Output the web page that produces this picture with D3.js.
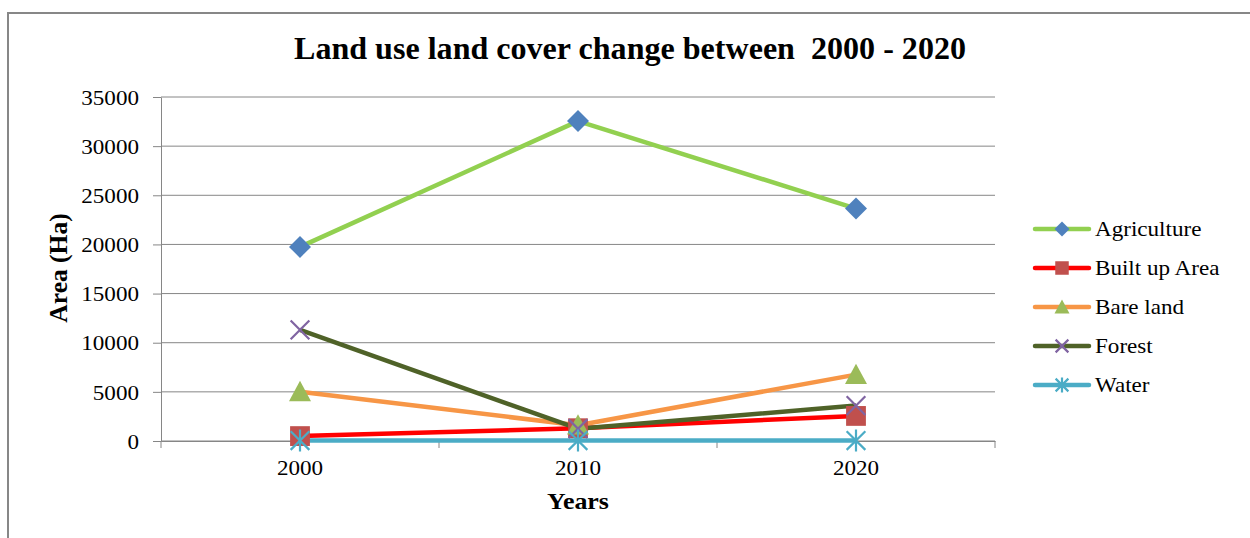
<!DOCTYPE html>
<html>
<head>
<meta charset="utf-8">
<script src="https://cdn.jsdelivr.net/npm/d3@7"></script>
<style>
  body { margin: 0; background: #fff; }
  text { font-family: "Liberation Serif", "Times New Roman", serif; fill: #000; }
</style>
</head>
<body>
<svg id="chart" width="1250" height="538"></svg>
<script>
// Chart data
const years = ['2000', '2010', '2020'];
const seriesNames = ['Agriculture', 'Built up Area', 'Bare land', 'Forest', 'Water'];
const agriculture = [19750, 32550, 23650];
const builtUp = [500, 1300, 2550];
const bareLand = [5000, 1600, 6750];
const forest = [11300, 1250, 3600];
const water = [50, 50, 50];
const yTicks = [0, 5000, 10000, 15000, 20000, 25000, 30000, 35000];

const lineColors = ['#92D050', '#FF0000', '#F79646', '#4F6228', '#4BACC6'];
const markerColors = ['#4F81BD', '#C0504D', '#9BBB59', '#8064A2', '#4BACC6'];
const markerTypes = ['diamond', 'square', 'triangle', 'x', 'star'];

const series = [agriculture, builtUp, bareLand, forest, water].map((vals, i) => ({
  name: seriesNames[i],
  line: lineColors[i],
  marker: markerColors[i],
  type: markerTypes[i],
  values: vals.map((v, j) => ({ year: years[j], value: v }))
}));

const svg = d3.select('#chart');
const gridColor = '#868686';

// outer frame
svg.append('rect')
  .attr('x', 8).attr('y', 13)
  .attr('width', 1400).attr('height', 700)
  .attr('fill', 'none')
  .attr('stroke', '#878787')
  .attr('stroke-width', 2);

const plotLeft = 161, plotRight = 995, plotTop = 97, plotBottom = 441;

const x = d3.scaleBand().domain(years).range([plotLeft, plotRight]).padding(0);
const y = d3.scaleLinear().domain([0, 35000]).range([plotBottom, plotTop]);

// gridlines
svg.append('g')
  .selectAll('line')
  .data(yTicks)
  .enter().append('line')
  .attr('x1', plotLeft).attr('x2', plotRight)
  .attr('y1', d => y(d)).attr('y2', d => y(d))
  .attr('stroke', gridColor)
  .attr('stroke-width', 1);

// y axis
const yAxis = svg.append('g')
  .attr('transform', `translate(${plotLeft},0)`)
  .call(d3.axisLeft(y).tickValues(yTicks).tickSize(8).tickSizeOuter(0).tickFormat(d3.format('d')));
yAxis.select('.domain').attr('stroke', gridColor);
yAxis.selectAll('.tick line').attr('stroke', gridColor);
yAxis.selectAll('.tick text')
  .attr('x', 0)
  .attr('dy', '0.34em')
  .attr('transform', 'translate(-22,0) scale(1.1,1)')
  .style('font-size', '21px')
  .style('font-family', '"Liberation Serif", serif')
  .attr('fill', '#000');

// x axis
const xAxis = svg.append('g')
  .attr('transform', `translate(0,${plotBottom})`)
  .call(d3.axisBottom(x).tickSize(0).tickSizeOuter(0));
xAxis.select('.domain').attr('stroke', gridColor);
xAxis.selectAll('.tick text')
  .attr('y', 0)
  .attr('dy', 0)
  .attr('transform', 'translate(0,34) scale(1.1,1)')
  .style('font-size', '21px')
  .style('font-family', '"Liberation Serif", serif')
  .attr('fill', '#000');
// category boundary ticks
const bounds = years.map(d => x(d)).concat([x.range()[1]]);
xAxis.selectAll('.bound')
  .data(bounds)
  .enter().append('line')
  .attr('class', 'bound')
  .attr('x1', d => d).attr('x2', d => d)
  .attr('y1', 0).attr('y2', 7)
  .attr('stroke', gridColor);

const cx = d => x(d.year) + x.bandwidth() / 2;

// lines
const line = d3.line().x(cx).y(d => y(d.value));
svg.append('g')
  .selectAll('path')
  .data(series)
  .enter().append('path')
  .attr('d', s => line(s.values))
  .attr('fill', 'none')
  .attr('stroke', s => s.line)
  .attr('stroke-width', 4.5)
  .attr('stroke-linejoin', 'round');

// marker drawing
function drawMarker(g, type, color, size) {
  const h = size / 2;
  if (type === 'diamond') {
    g.append('path').attr('d', `M0,${-h}L${h},0L0,${h}L${-h},0Z`).attr('fill', color);
  } else if (type === 'square') {
    g.append('rect').attr('x', -h * 0.9).attr('y', -h * 0.9)
      .attr('width', h * 1.8).attr('height', h * 1.8).attr('fill', color);
  } else if (type === 'triangle') {
    g.append('path').attr('d', `M0,${-h}L${h},${h * 0.85}L${-h},${h * 0.85}Z`).attr('fill', color);
  } else if (type === 'x') {
    const a = h * 0.85;
    g.append('path').attr('d', `M${-a},${-a}L${a},${a}M${-a},${a}L${a},${-a}`)
      .attr('stroke', color).attr('stroke-width', 2.2).attr('fill', 'none');
  } else if (type === 'star') {
    const a = h * 0.85;
    g.append('path').attr('d', `M${-a},${-a}L${a},${a}M${-a},${a}L${a},${-a}M0,${-h}L0,${h}`)
      .attr('stroke', color).attr('stroke-width', 2.2).attr('fill', 'none');
  }
}

// markers
series.forEach(s => {
  svg.append('g')
    .selectAll('g')
    .data(s.values)
    .enter().append('g')
    .attr('transform', d => `translate(${cx(d)},${y(d.value)})`)
    .each(function() { drawMarker(d3.select(this), s.type, s.marker, 22); });
});

// title
svg.append('text')
  .attr('transform', 'translate(630,59) scale(1.035,1)')
  .attr('text-anchor', 'middle')
  .style('font-size', '31px')
  .style('font-weight', 'bold')
  .style('white-space', 'pre')
  .text('Land use land cover change between  2000 - 2020');

// axis titles
svg.append('text')
  .attr('transform', 'translate(67,268) rotate(-90)')
  .attr('text-anchor', 'middle')
  .style('font-size', '25.5px')
  .style('font-weight', 'bold')
  .text('Area (Ha)');

svg.append('text')
  .attr('transform', 'translate(578,509) scale(1.08,1)')
  .attr('text-anchor', 'middle')
  .style('font-size', '24px')
  .style('font-weight', 'bold')
  .text('Years');

// legend
const legend = svg.append('g')
  .selectAll('g')
  .data(series)
  .enter().append('g')
  .attr('transform', (s, i) => `translate(1035,${229 + i * 39})`);

legend.append('line')
  .attr('x1', 0).attr('x2', 54)
  .attr('y1', 0).attr('y2', 0)
  .attr('stroke', s => s.line)
  .attr('stroke-width', 4.5)
  .attr('stroke-linecap', 'round');

legend.append('g')
  .attr('transform', 'translate(27,0)')
  .each(function(s) { drawMarker(d3.select(this), s.type, s.marker, 15); });

legend.append('text')
  .attr('transform', 'translate(60,7) scale(1.1,1)')
  .style('font-size', '21px')
  .text(s => s.name);
</script>
</body>
</html>
